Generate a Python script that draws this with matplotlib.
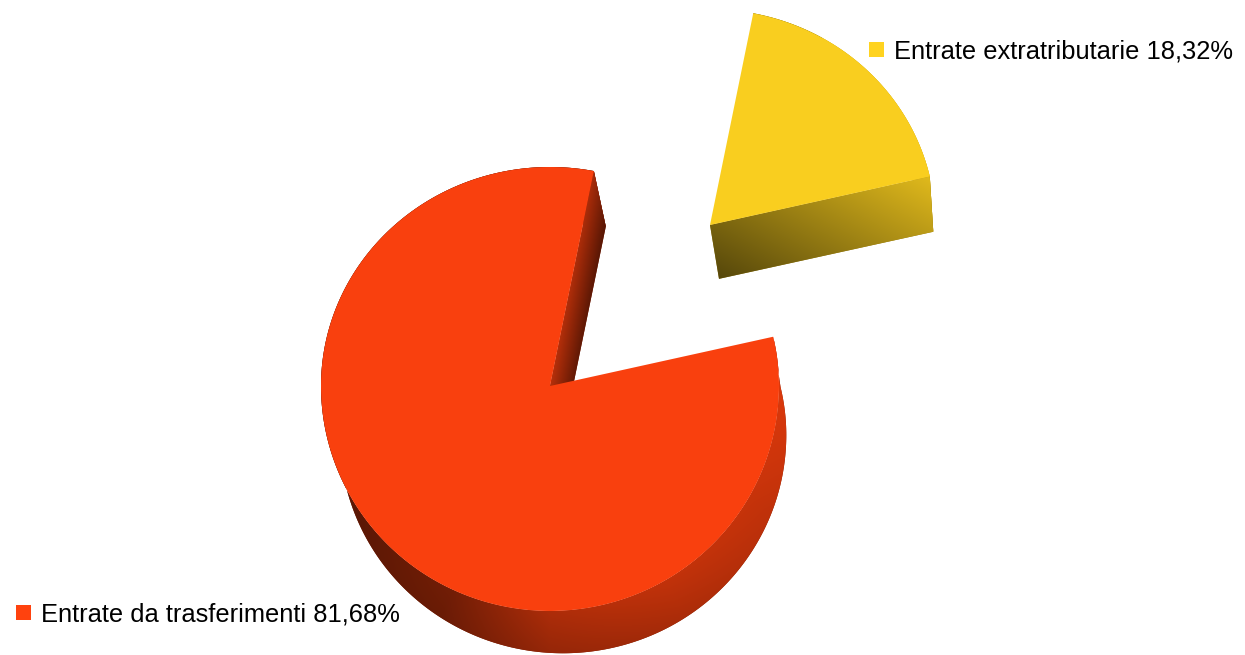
import numpy as np
import matplotlib
matplotlib.use("Agg")
import matplotlib.pyplot as plt
from matplotlib.patches import Polygon, Rectangle
from matplotlib.colors import to_rgb

# Revenue shares
categories = ["Entrate da trasferimenti", "Entrate extratributarie"]
shares = [81.68, 18.32]
colors = ["#ff420e", "#ffd320"]
exploded = [False, True]

# Geometry of the 3D pie in pixel space
CX, CY = 550, 386
A, B_TOP, B_BOT = 229, 219, 225
START = 13.0
EXPLODE = (160, -161)
EXPLODE_SCALE = 0.985


def rim(theta, cx, cy, s=1.0):
    t = np.radians(theta)
    b = np.where(np.sin(t) > 0, B_TOP, B_BOT)
    return cx + s * A * np.cos(t), cy - s * b * np.sin(t)


def drop(x, y, frac=1.0):
    # point on the lower face, frac of the full thickness
    dx = 13 - 0.025 * (np.asarray(x) - CX)
    dy = 49 - 0.03 * (np.asarray(y) - CY)
    return x + frac * dx, y + frac * dy


def wall_shade(phi):
    knots = [60, 180, 215, 245, 270, 300, 330, 360, 380]
    vals = [0.5, 0.42, 0.36, 0.45, 0.68, 0.76, 0.78, 0.86, 0.86]
    th = np.where(phi >= 60, phi, phi + 360)
    return np.interp(th, knots, vals)


def gradient_fill(ax, pts, kfun, rgb, z):
    pts = np.asarray(pts)
    x0, y0 = np.floor(pts.min(0)) - 2
    x1, y1 = np.ceil(pts.max(0)) + 2
    xs = np.arange(x0, x1, 0.5) + 0.25
    ys = np.arange(y0, y1, 0.5) + 0.25
    X, Y = np.meshgrid(xs, ys)
    K = kfun(X, Y)
    img = np.clip(K[..., None] * np.array(rgb), 0, 1)
    # soft base under the clipped image keeps the outline smooth
    mean_k = float(np.median(K))
    ax.add_patch(Polygon(pts, closed=True, facecolor=tuple(np.clip(np.array(rgb) * mean_k, 0, 1)),
                         edgecolor="none", zorder=z - 0.1))
    im = ax.imshow(img, extent=(x0, x1, y1, y0), origin="upper",
                   interpolation="bilinear", aspect="auto", zorder=z)
    im.set_clip_path(Polygon(pts, closed=True, transform=ax.transData))


def outer_wall(ax, t0, t1, cx, cy, s, rgb, z):
    thetas = np.linspace(t0, t1, 600)
    xt, yt = rim(thetas, cx, cy, s)
    xb, yb = drop(xt, yt)
    pts = np.column_stack([np.r_[xt, xb[::-1]], np.r_[yt, yb[::-1]]])

    def k(X, Y):
        u = (X - cx) / (s * A)
        v = -(Y - cy)
        v = np.where(v > 0, v / (s * B_TOP), v / (s * B_BOT))
        phi = np.degrees(np.arctan2(v, u)) % 360
        rx, ry = rim(phi, cx, cy, s)
        dy = 49 - 0.03 * (ry - CY)
        f = np.clip((Y - ry) / dy, 0, 1)
        return wall_shade(phi) * (1 - 0.14 * f)

    gradient_fill(ax, pts, k, rgb, z)


def cut_face(ax, theta, cx, cy, s, rgb, fn, z):
    ex, ey = rim(theta, cx, cy, s)
    mx, my = 0.5 * (cx + ex), 0.5 * (cy + ey)
    bx, by = drop(mx, my)
    dx, dy = bx - mx, by - my
    a_pts = [(cx, cy), (ex, ey), drop(ex, ey), drop(cx, cy)]
    inv = np.linalg.inv(np.array([[ex - cx, dx], [ey - cy, dy]]))

    def k(X, Y):
        px, py = X - cx, Y - cy
        u = np.clip(inv[0, 0] * px + inv[0, 1] * py, 0, 1)
        f = np.clip(inv[1, 0] * px + inv[1, 1] * py, 0, 1)
        return fn(u, f)

    gradient_fill(ax, a_pts, k, rgb, z)


def top_face(ax, t0, t1, cx, cy, s, rgb, z):
    thetas = np.linspace(t0, t1, 400)
    xs, ys = rim(thetas, cx, cy, s)
    pts = np.column_stack([np.r_[cx, xs], np.r_[cy, ys]])
    ax.add_patch(Polygon(pts, closed=True,
                         facecolor=tuple(np.array(rgb) * 0.975),
                         edgecolor="none", zorder=z))


fig = plt.figure(figsize=(12.45, 6.55), dpi=100)
ax = fig.add_axes([0, 0, 1, 1])

# slice angles: yellow slice starts at START, red takes the rest
spans = [360 * v / 100 for v in shares]
t_yellow = (START, START + spans[1])
t_red = (t_yellow[1], t_yellow[1] + spans[0])
slice_angles = [t_red, t_yellow]

for k in range(len(categories)):
    rgb = to_rgb(colors[k])
    t0, t1 = slice_angles[k]
    if exploded[k]:
        cx, cy, s = CX + EXPLODE[0], CY + EXPLODE[1], EXPLODE_SCALE
    else:
        cx, cy, s = CX, CY, 1.0
    outer_wall(ax, t0, t1, cx, cy, s, rgb, 1)
    if exploded[k]:
        # front cut face of the lifted slice
        cut_face(ax, t0, cx, cy, s, rgb,
                 lambda u, f: 0.46 + 0.42 * u - 0.13 * f, 2)
    else:
        # cut face seen through the gap
        cut_face(ax, t0, cx, cy, s, rgb,
                 lambda u, f: 0.72 - 0.32 * f - 0.06 * u, 2)
    top_face(ax, t0, t1, cx, cy, s, rgb, 3)

# labels with colour keys
label_pos = [(15.5, 621.5), (869, 58.3)]
for k in range(len(categories)):
    x, y = label_pos[k]
    ax.add_patch(Rectangle((x, y - 16.5), 15, 15, facecolor=colors[k],
                           edgecolor="none", zorder=5))
    txt = f"{categories[k]} {shares[k]:.2f}%".replace(".", ",")
    ax.text(x + 25.5, y, txt, fontsize=18.4, family="Liberation Sans",
            color="black", va="baseline", ha="left", zorder=5)

ax.set_xlim(0, 1245)
ax.set_ylim(655, 0)
ax.axis("off")

fig.savefig("out.png", dpi=100, facecolor="white")
